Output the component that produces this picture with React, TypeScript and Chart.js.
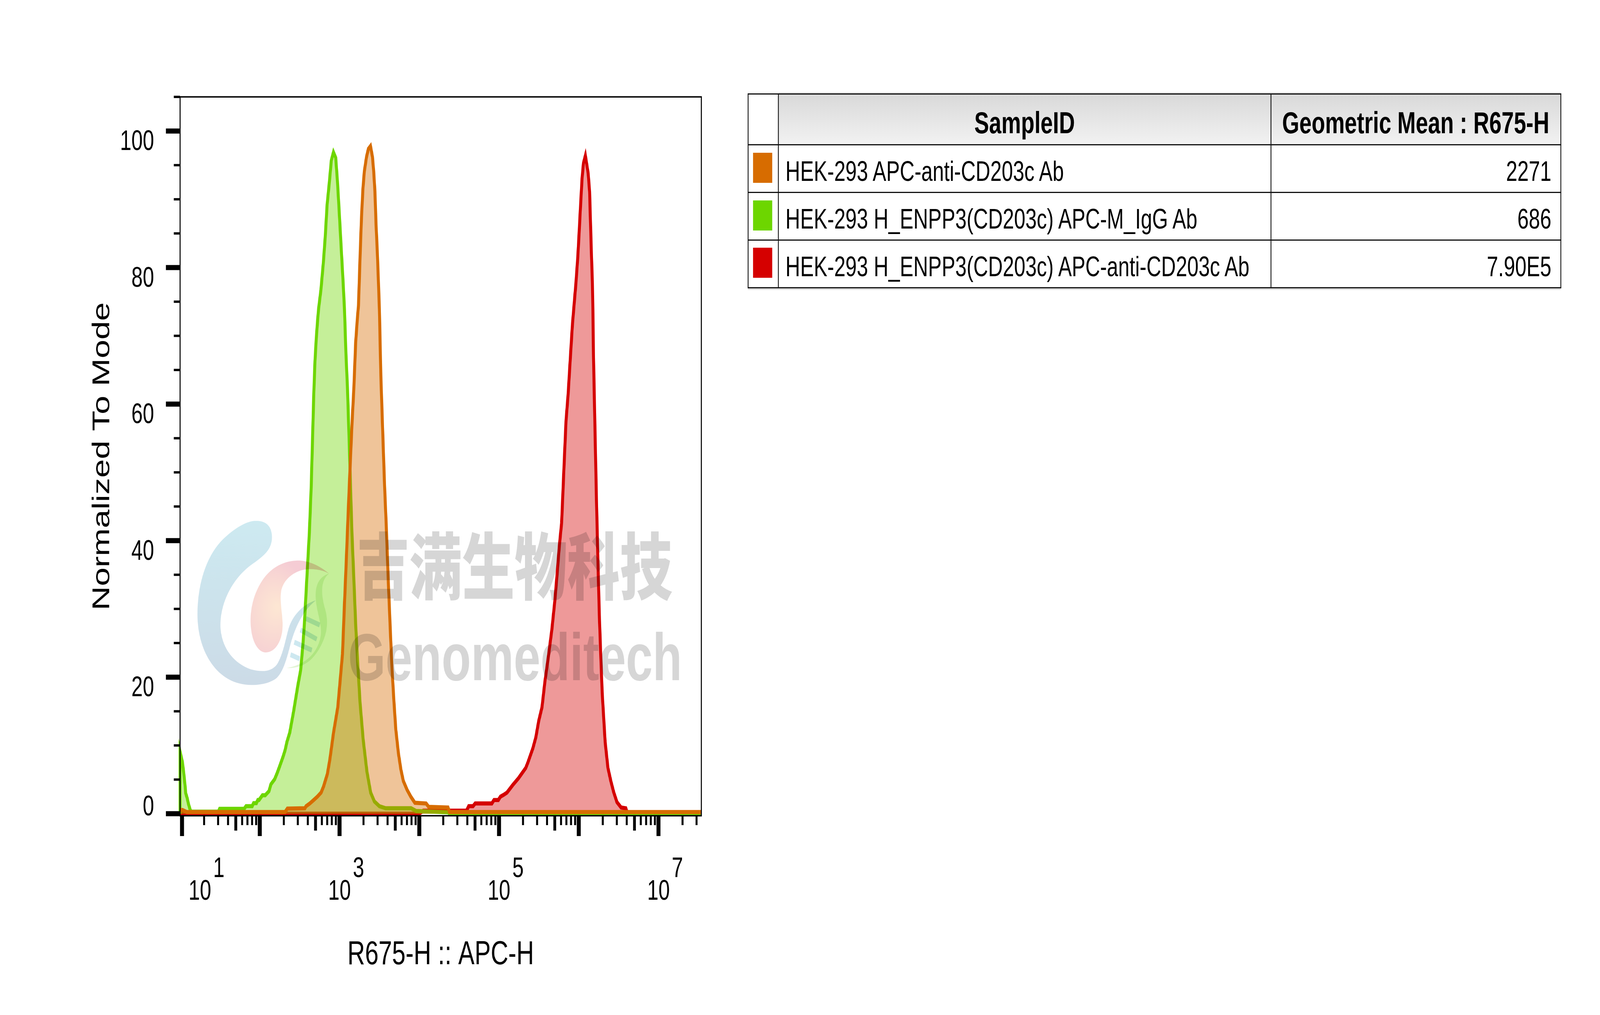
import React, { useEffect, useRef } from 'react';
import { Chart, registerables } from 'chart.js';

Chart.register(...registerables);

const PAGE_W = 5658;
const PAGE_H = 2598;
const FONT = '"Liberation Sans", Arial, Helvetica, sans-serif';

// ---------------- data ----------------
const sampleIds = [
  'HEK-293 APC-anti-CD203c Ab',
  'HEK-293 H_ENPP3(CD203c) APC-M_IgG Ab',
  'HEK-293 H_ENPP3(CD203c) APC-anti-CD203c Ab',
];
const geometricMeans = ['2271', '686', '7.90E5'];
const tableHeaders = ['SampleID', 'Geometric Mean : R675-H'];
const sampleColors = ['#d76c00', '#6dd600', '#d50000'];
const sampleFills = ['rgba(215,108,0,0.4)', 'rgba(109,214,0,0.4)', 'rgba(213,0,0,0.4)'];

// x positions are log10(R675-H), y is % of mode
const orangeLog10 = [1.0, 1.03, 1.083, 2.317, 2.346, 2.565, 2.58, 2.627, 2.675, 2.722, 2.769, 2.8,
  2.847, 2.878, 2.925, 2.978, 3.009, 3.037, 3.061, 3.085, 3.108, 3.132, 3.155, 3.179, 3.202, 3.222,
  3.2376, 3.2575, 3.275, 3.293, 3.311, 3.338, 3.362, 3.388, 3.413, 3.429, 3.444, 3.458, 3.473, 3.488,
  3.5, 3.518, 3.541, 3.565, 3.589, 3.612, 3.636, 3.659, 3.683, 3.706, 3.738, 3.769, 3.8, 3.847,
  3.894, 3.945, 4.086, 4.118, 4.36, 4.38, 7.537];
const orangeMode = [0.55, 0.55, 0.25, 0.25, 0.75, 0.8, 1.1, 1.5, 2.0, 2.5, 3.1, 4.0,
  5.8, 7.9, 11.9, 15.6, 19.7, 23.4, 30.5, 37.2, 44.0, 50.7, 56.8, 62.2, 69.0, 72.3,
  74.5, 81.6, 87.3, 91.5, 94.1, 96.2, 97.4, 97.8, 96.2, 94.0, 91.1, 86.3, 82.5, 77.8,
  73.9, 64.2, 56.1, 48.0, 41.3, 33.9, 27.1, 21.0, 16.3, 12.3, 8.9, 6.5, 4.8, 3.5,
  2.5, 1.6, 1.5, 1.0, 0.9, 0.25, 0.25];

const greenLog10 = [1.0, 1.0, 1.029, 1.045, 1.062, 1.071, 1.089, 1.106, 1.124, 1.136,
  1.48, 1.496, 1.804, 1.827, 1.904, 1.922, 1.957, 1.975, 1.99, 2.033,
  2.068, 2.115, 2.139, 2.186, 2.216, 2.246, 2.293, 2.317, 2.34, 2.376,
  2.424, 2.476, 2.512, 2.543, 2.559, 2.59, 2.622, 2.645, 2.661, 2.677,
  2.692, 2.708, 2.725, 2.7376, 2.767, 2.796, 2.82, 2.844, 2.873, 2.897,
  2.924, 2.952, 2.974, 2.991, 3.009, 3.027, 3.045, 3.062, 3.08, 3.1,
  3.124, 3.139, 3.155, 3.179, 3.202, 3.226, 3.257, 3.296, 3.343, 3.39,
  3.437, 3.5, 3.579, 3.898, 3.961, 4.36, 4.38, 7.537];
const greenMode = [0, 9.1, 7.6, 6.1, 4.2, 3.0, 2.3, 1.4, 0.7, 0.3,
  0.3, 0.72, 0.72, 1.1, 1.1, 1.55, 1.55, 2.0, 2.0, 2.7,
  2.7, 3.3, 4.3, 5.05, 5.9, 6.85, 8.4, 9.3, 10.5, 11.9,
  15.0, 18.7, 21.0, 25.1, 27.8, 34.5, 41.3, 48.0, 54.8, 61.5,
  66.3, 69.6, 72.3, 74.0, 76.8, 80.6, 84.4, 89.2, 92.6, 95.7,
  96.9, 96.1, 92.6, 89.2, 85.4, 81.6, 77.8, 73.9, 67.5, 62.2,
  53.4, 47.4, 41.3, 34.5, 27.8, 22.4, 16.3, 10.9, 6.2, 3.1,
  1.8, 1.1, 0.8, 0.8, 0.4, 0.2, 0, 0];

const redLog10 = [1.0, 4.0, 4.05, 4.593, 4.62, 4.674, 4.701, 4.91, 4.937, 4.991,
  5.018, 5.063, 5.1, 5.172, 5.244, 5.335, 5.362, 5.425, 5.462, 5.498,
  5.539, 5.575, 5.62, 5.664, 5.7, 5.729, 5.757, 5.785, 5.812, 5.84,
  5.867, 5.895, 5.921, 5.941, 5.965, 5.988, 6.006, 6.023, 6.041, 6.059,
  6.083, 6.118, 6.136, 6.148, 6.16, 6.171, 6.177, 6.185, 6.204, 6.222,
  6.24, 6.258, 6.276, 6.294, 6.331, 6.366, 6.402, 6.437, 6.479, 6.532,
  6.59, 6.607, 6.62, 7.537];
const redMode = [0, 0, 0.45, 0.45, 1.1, 1.1, 1.5, 1.5, 2.0, 2.0,
  2.5, 2.8, 3.1, 4.2, 5.2, 6.7, 7.5, 9.6, 11.2, 13.6,
  15.6, 19.3, 23.1, 27.1, 31.2, 35.2, 39.3, 42.6, 50.0, 57.5,
  61.5, 66.9, 71.7, 74.5, 77.8, 81.6, 85.4, 89.2, 93.0, 95.3,
  96.4, 93.8, 91.1, 86.3, 81.6, 77.8, 73.9, 66.9, 56.1, 46.0,
  37.2, 29.1, 23.1, 17.7, 10.5, 6.7, 4.8, 3.2, 1.7, 0.9,
  0.8, 0.2, 0, 0];

// axis ticks
const xMajorDecades = [1, 2, 3, 4, 5, 6, 7];
const xLabelDecades = [1, 3, 5, 7];
const xMinorMultipliers = [2, 3, 4, 6, 7, 8, 9];
const xMidMultipliers = [5];
const yMajorTicks = [0, 20, 40, 60, 80, 100];
const yMinorTicks = [5, 10, 15, 25, 30, 35, 45, 50, 55, 65, 70, 75, 85, 90, 95, 105];
const X_MIN_LOG = 1;
const X_MAX_LOG = 7.537;
const Y_MIN = -0.3;
const Y_MAX = 105;

const xTitle = 'R675-H :: APC-H';
const yTitle = 'Normalized To Mode';
const watermarkCn = '吉满生物科技';
const watermarkEn = 'Genomeditech';

// ---------------- layout ----------------
const PLOT = { left: 636.7, top: 248, right: 2480, bottom: 2088 };
const tableCols = [2645, 2752.7, 4494, 5519];
const tableRows = [240.7, 370.7, 492.7, 614, 736.7];

const toPoints = (logs: number[], ys: number[]) =>
  logs.map((l, i) => ({ x: Math.pow(10, l), y: ys[i] }));

const whiteBackground = {
  id: 'whiteBackground',
  beforeDraw(chart: any) {
    const ctx = chart.ctx;
    ctx.save();
    ctx.fillStyle = '#ffffff';
    ctx.fillRect(0, 0, chart.width, chart.height);
    ctx.restore();
  },
};

function drawLogo(ctx: CanvasRenderingContext2D) {
  ctx.save();
  ctx.globalCompositeOperation = 'multiply';
  ctx.translate(680, 1300);
  ctx.scale(1 / 3, 1 / 3);

  // blue swoosh
  const g = ctx.createLinearGradient(0, 100, 0, 1360);
  g.addColorStop(0, '#cdeaf1');
  g.addColorStop(1, '#ccdbe7');
  ctx.fillStyle = g;
  ctx.beginPath();
  ctx.moveTo(845, 225);
  ctx.bezierCurveTo(845, 120, 750, 95, 660, 100);
  ctx.bezierCurveTo(560, 105, 420, 170, 300, 260);
  ctx.bezierCurveTo(150, 380, 55, 580, 55, 820);
  ctx.bezierCurveTo(55, 1100, 260, 1360, 630, 1360);
  ctx.bezierCurveTo(760, 1360, 840, 1335, 885, 1312);
  ctx.bezierCurveTo(960, 1270, 1000, 1160, 1030, 1080);
  ctx.bezierCurveTo(1070, 960, 1150, 800, 1310, 710);
  ctx.bezierCurveTo(1170, 740, 1060, 830, 1020, 930);
  ctx.bezierCurveTo(990, 1010, 960, 1130, 900, 1200);
  ctx.bezierCurveTo(840, 1260, 740, 1262, 620, 1240);
  ctx.bezierCurveTo(450, 1195, 320, 1090, 300, 930);
  ctx.bezierCurveTo(285, 760, 400, 560, 620, 440);
  ctx.bezierCurveTo(760, 370, 845, 320, 845, 225);
  ctx.closePath();
  ctx.fill();

  // pink drop
  const rg = ctx.createRadialGradient(900, 760, 20, 830, 800, 430);
  rg.addColorStop(0, '#fde6d3');
  rg.addColorStop(1, '#f5ccd4');
  ctx.fillStyle = rg;
  ctx.beginPath();
  ctx.moveTo(1450, 505);
  ctx.bezierCurveTo(1330, 430, 1200, 400, 1100, 405);
  ctx.bezierCurveTo(950, 410, 820, 470, 740, 560);
  ctx.bezierCurveTo(650, 660, 610, 780, 620, 900);
  ctx.bezierCurveTo(630, 1030, 700, 1110, 780, 1110);
  ctx.bezierCurveTo(880, 1110, 965, 1020, 958, 880);
  ctx.bezierCurveTo(950, 780, 925, 700, 945, 630);
  ctx.bezierCurveTo(975, 540, 1100, 470, 1250, 470);
  ctx.bezierCurveTo(1350, 470, 1420, 490, 1450, 505);
  ctx.closePath();
  ctx.fill();

  // green leaf
  ctx.fillStyle = '#e3f5d5';
  ctx.beginPath();
  ctx.moveTo(1450, 505);
  ctx.bezierCurveTo(1340, 530, 1300, 600, 1310, 700);
  ctx.bezierCurveTo(1320, 800, 1370, 880, 1365, 960);
  ctx.bezierCurveTo(1355, 1080, 1240, 1200, 1000, 1230);
  ctx.bezierCurveTo(1200, 1235, 1300, 1150, 1370, 1050);
  ctx.bezierCurveTo(1440, 950, 1440, 860, 1410, 780);
  ctx.bezierCurveTo(1370, 680, 1350, 560, 1450, 505);
  ctx.closePath();
  ctx.fill();

  // helix rungs
  ctx.strokeStyle = '#cde8f0';
  ctx.lineWidth = 38;
  ctx.lineCap = 'butt';
  const rungs = [
    [1205, 850, 1352, 899],
    [1148, 937, 1320, 1008],
    [1082, 1031, 1268, 1093],
    [1042, 1127, 1138, 1159],
  ];
  rungs.forEach(([x1, y1, x2, y2]) => {
    ctx.beginPath();
    ctx.moveTo(x1, y1);
    ctx.lineTo(x2, y2);
    ctx.stroke();
  });
  ctx.restore();
}

const logoPlugin = {
  id: 'logoPlugin',
  afterDatasetsDraw(chart: any) {
    drawLogo(chart.ctx);
  },
};

const flowAxes = {
  id: 'flowAxes',
  afterDraw(chart: any) {
    const ctx: CanvasRenderingContext2D = chart.ctx;
    const { left, right, top, bottom } = chart.chartArea;
    const xs = chart.scales.x;
    const ys = chart.scales.y;
    ctx.save();
    ctx.fillStyle = '#000';
    ctx.strokeStyle = '#000';

    // frame
    ctx.lineWidth = 3.6;
    ctx.strokeRect(left, top, right - left, bottom - top);

    // y ticks
    yMinorTicks.forEach((v) => {
      const py = ys.getPixelForValue(v);
      ctx.fillRect(left - 22, py - 3, 22, 6);
    });
    yMajorTicks.forEach((v) => {
      const py = ys.getPixelForValue(v);
      ctx.fillRect(left - 50, py - 6.5, 50, 13);
    });

    // y labels
    ctx.font = `72px ${FONT}`;
    ctx.textAlign = 'right';
    ctx.textBaseline = 'alphabetic';
    yMajorTicks.forEach((v) => {
      const py = ys.getPixelForValue(v);
      const cy = Math.min(py + 23, bottom - 27);
      ctx.fillText(String(v), left - 92, cy + 26);
    });

    // x ticks
    const xMax = Math.pow(10, X_MAX_LOG);
    xMajorDecades.forEach((d) => {
      for (const m of xMinorMultipliers) {
        const v = m * Math.pow(10, d);
        if (v > xMax) continue;
        const px = xs.getPixelForValue(v);
        ctx.fillRect(px - 3.5, bottom, 7, 24);
      }
      for (const m of xMidMultipliers) {
        const v = m * Math.pow(10, d);
        if (v > xMax) continue;
        const px = xs.getPixelForValue(v);
        ctx.fillRect(px - 5, bottom, 10, 38);
      }
      let px = xs.getPixelForValue(Math.pow(10, d));
      px = Math.min(Math.max(px, left + 7), right - 7);
      ctx.fillRect(px - 7, bottom, 14, 52);
    });

    // x labels: 10 with superscript exponent
    ctx.textAlign = 'left';
    const w10 = ctx.measureText('10').width;
    xLabelDecades.forEach((d) => {
      const px = xs.getPixelForValue(Math.pow(10, d));
      const cx = Math.max(px, left + 70);
      ctx.fillText('10', cx - w10 / 2, bottom + 215);
      ctx.fillText(String(d), cx + w10 / 2 + 7, bottom + 157);
    });

    // titles
    ctx.font = `86px ${FONT}`;
    ctx.textAlign = 'center';
    ctx.fillText(xTitle, (left + right) / 2, bottom + 380);
    ctx.save();
    ctx.translate(386, (top + bottom) / 2);
    ctx.rotate(-Math.PI / 2);
    ctx.fillText(yTitle, 0, 0);
    ctx.restore();

    ctx.restore();
  },
};

export default function App() {
  const canvasRef = useRef<HTMLCanvasElement | null>(null);

  useEffect(() => {
    const canvas = canvasRef.current;
    if (!canvas) return;
    const series = [
      { pts: toPoints(orangeLog10, orangeMode), i: 0 },
      { pts: toPoints(greenLog10, greenMode), i: 1 },
      { pts: toPoints(redLog10, redMode), i: 2 },
    ];
    const chart = new Chart(canvas, {
      type: 'line',
      data: {
        datasets: series.map((s) => ({
          label: sampleIds[s.i],
          data: s.pts,
          borderColor: sampleColors[s.i],
          backgroundColor: sampleFills[s.i],
          borderWidth: 10.5,
          fill: 'origin',
          pointRadius: 0,
          tension: 0,
          clip: 6,
        })),
      },
      options: {
        responsive: false,
        animation: false,
        devicePixelRatio: 1,
        events: [],
        layout: {
          padding: {
            left: PLOT.left,
            top: PLOT.top,
            right: PAGE_W - PLOT.right,
            bottom: PAGE_H - PLOT.bottom,
          },
        },
        plugins: {
          legend: { display: false },
          tooltip: { enabled: false },
        },
        scales: {
          x: {
            type: 'logarithmic',
            min: Math.pow(10, X_MIN_LOG),
            max: Math.pow(10, X_MAX_LOG),
            display: false,
          },
          y: {
            type: 'linear',
            min: Y_MIN,
            max: Y_MAX,
            display: false,
          },
        },
      },
      plugins: [whiteBackground, logoPlugin, flowAxes],
    } as any);
    return () => chart.destroy();
  }, []);

  const line = (l: number, t: number, w: number, h: number, key: string) => (
    <div key={key} style={{ position: 'absolute', left: l, top: t, width: w, height: h, background: '#111' }} />
  );

  const tableW = tableCols[3] - tableCols[0];
  const tableH = tableRows[4] - tableRows[0];

  const vw = (typeof window !== 'undefined' && window.innerWidth) || PAGE_W;
  const vh = (typeof window !== 'undefined' && window.innerHeight) || PAGE_H;
  const sx = vw / PAGE_W;
  const sy = vh / PAGE_H;

  return (
    <div style={{ position: 'fixed', left: 0, top: 0, right: 0, bottom: 0, background: '#fff', overflow: 'hidden' }}>
      <div
        style={{
          position: 'absolute', left: 0, top: 0, width: PAGE_W, height: PAGE_H, background: '#fff',
          transform: `scale(${sx}, ${sy})`, transformOrigin: '0 0',
        }}
      >
        <canvas
          ref={canvasRef}
          width={PAGE_W}
          height={PAGE_H}
          style={{ position: 'absolute', left: 0, top: 0, width: PAGE_W, height: PAGE_H }}
        />

        {/* watermark */}
        <div
          style={{
            position: 'absolute', left: 1262, top: 1346, fontFamily: '"Noto Sans CJK SC", sans-serif',
            fontWeight: 900, fontSize: 186, lineHeight: '186px', color: '#d6d6d6', whiteSpace: 'nowrap',
            mixBlendMode: 'multiply', pointerEvents: 'none',
          }}
        >
          {watermarkCn}
        </div>
        <div
          style={{
            position: 'absolute', left: 1231, top: 1597, fontFamily: FONT, fontWeight: 700,
            fontSize: 170, lineHeight: '170px', color: '#d6d6d6', whiteSpace: 'nowrap',
            mixBlendMode: 'multiply', pointerEvents: 'none',
          }}
        >
          {watermarkEn}
        </div>

        {/* statistics table */}
        <div style={{ position: 'absolute', left: tableCols[1], top: tableRows[0] - 5, width: tableCols[3] - tableCols[1], height: 4, background: '#e2e2e2' }} />
        <div style={{ position: 'absolute', left: tableCols[0], top: tableRows[4] + 1, width: tableW, height: 4, background: '#dedede' }} />
        <div
          style={{
            position: 'absolute', left: tableCols[1], top: tableRows[0], width: tableCols[3] - tableCols[1],
            height: tableRows[1] - tableRows[0], background: 'linear-gradient(#d9d9d9, #f2f2f2)',
          }}
        />
        {tableHeaders.map((h, i) => (
          <div
            key={'h' + i}
            style={{
              position: 'absolute', left: tableCols[i + 1], top: tableRows[0] + 34, width: tableCols[i + 2] - tableCols[i + 1],
              textAlign: 'center', fontFamily: FONT, fontWeight: 700, fontSize: 78, lineHeight: '78px', color: '#000',
              whiteSpace: 'nowrap',
            }}
          >
            {h}
          </div>
        ))}
        {sampleIds.map((s, i) => (
          <React.Fragment key={'r' + i}>
            <div
              style={{
                position: 'absolute', left: 2662.7, top: tableRows[i + 1] + 20, width: 68, height: 77,
                background: sampleColors[i],
              }}
            />
            <div
              style={{
                position: 'absolute', left: tableCols[1] + 25, top: tableRows[i + 1] + 31.6, fontFamily: FONT,
                fontSize: 72, lineHeight: '72px', color: '#000', whiteSpace: 'nowrap',
              }}
            >
              {s}
            </div>
            <div
              style={{
                position: 'absolute', left: tableCols[2], top: tableRows[i + 1] + 31.6,
                width: tableCols[3] - tableCols[2] - 33, textAlign: 'right', fontFamily: FONT,
                fontSize: 72, lineHeight: '72px', color: '#000', whiteSpace: 'nowrap',
              }}
            >
              {geometricMeans[i]}
            </div>
          </React.Fragment>
        ))}
        {tableRows.map((r, i) => line(tableCols[0] - 1.5, r - 1.5, tableW + 3, 3, 'hl' + i))}
        {tableCols.map((c, i) => line(c - 1.5, tableRows[0] - 1.5, 3, tableH + 3, 'vl' + i))}
      </div>
    </div>
  );
}
